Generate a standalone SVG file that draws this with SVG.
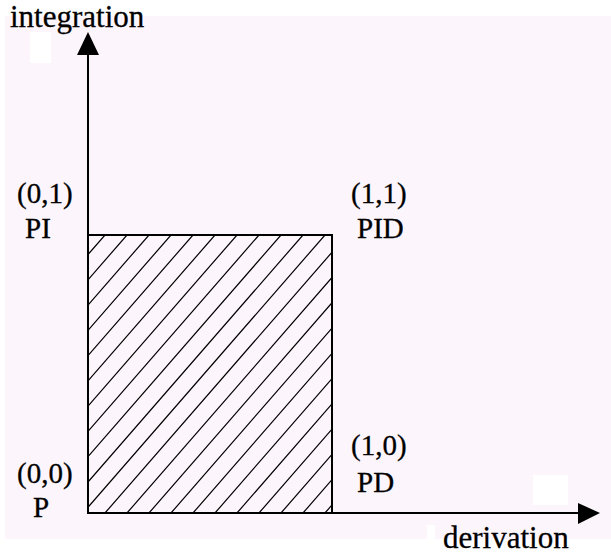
<svg xmlns="http://www.w3.org/2000/svg" width="611" height="557" viewBox="0 0 611 557">
<style>
text{font-family:'Liberation Serif','DejaVu Serif','Times New Roman',serif;fill:#000;stroke:#000;stroke-width:0.3}
.big{font-size:31px}
.lab{font-size:29px}
.ax{stroke:#000;stroke-width:2;fill:none}
.h{stroke:#000;stroke-width:1.2}
</style>
<defs>
<clipPath id="rc"><rect x="88" y="235" width="244" height="278"/></clipPath>
</defs>
<rect x="0" y="0" width="611" height="557" fill="#fff"/>
<rect x="5" y="16" width="606" height="523" fill="#fcf5fb"/>
<rect x="30" y="32" width="21" height="31" fill="#fff"/>
<rect x="533" y="475" width="35" height="30" fill="#fff"/>
<rect x="427" y="525" width="8" height="14" fill="#fff"/>
<g id="region">
<g clip-path="url(#rc)">
<path class="h" d="M105,235 l-242,278 M127,235 l-242,278 M149,235 l-242,278 M171,235 l-242,278 M193,235 l-242,278 M215,235 l-242,278 M237,235 l-242,278 M259,235 l-242,278 M281,235 l-242,278 M303,235 l-242,278 M325,235 l-242,278 M347,235 l-242,278 M369,235 l-242,278 M391,235 l-242,278 M413,235 l-242,278 M435,235 l-242,278 M457,235 l-242,278 M479,235 l-242,278 M501,235 l-242,278 M523,235 l-242,278 M545,235 l-242,278 M567,235 l-242,278"/>
</g>
<rect class="ax" x="88" y="235" width="244" height="278"/>
</g>
<g id="connectors">
<line class="ax" x1="88" y1="513" x2="88" y2="52"/>
<polygon points="88,32 99,55 77,55" fill="#000"/>
<line class="ax" x1="88" y1="513" x2="580" y2="513"/>
<polygon points="600,513 578,503 578,524" fill="#000"/>
</g>
<g id="axis-y"><text class="big" x="10" y="27">integration</text></g>
<g id="axis-x"><text class="big" x="443" y="548">derivation</text></g>
<g id="node-PI"><text class="lab" x="17" y="203">(0,1)</text><text class="lab" x="25" y="238">PI</text></g>
<g id="node-PID"><text class="lab" x="351" y="203">(1,1)</text><text class="lab" x="357" y="238">PID</text></g>
<g id="node-P"><text class="lab" x="17" y="483">(0,0)</text><text class="lab" x="33" y="517">P</text></g>
<g id="node-PD"><text class="lab" x="351" y="455">(1,0)</text><text class="lab" x="357" y="492">PD</text></g>
</svg>
